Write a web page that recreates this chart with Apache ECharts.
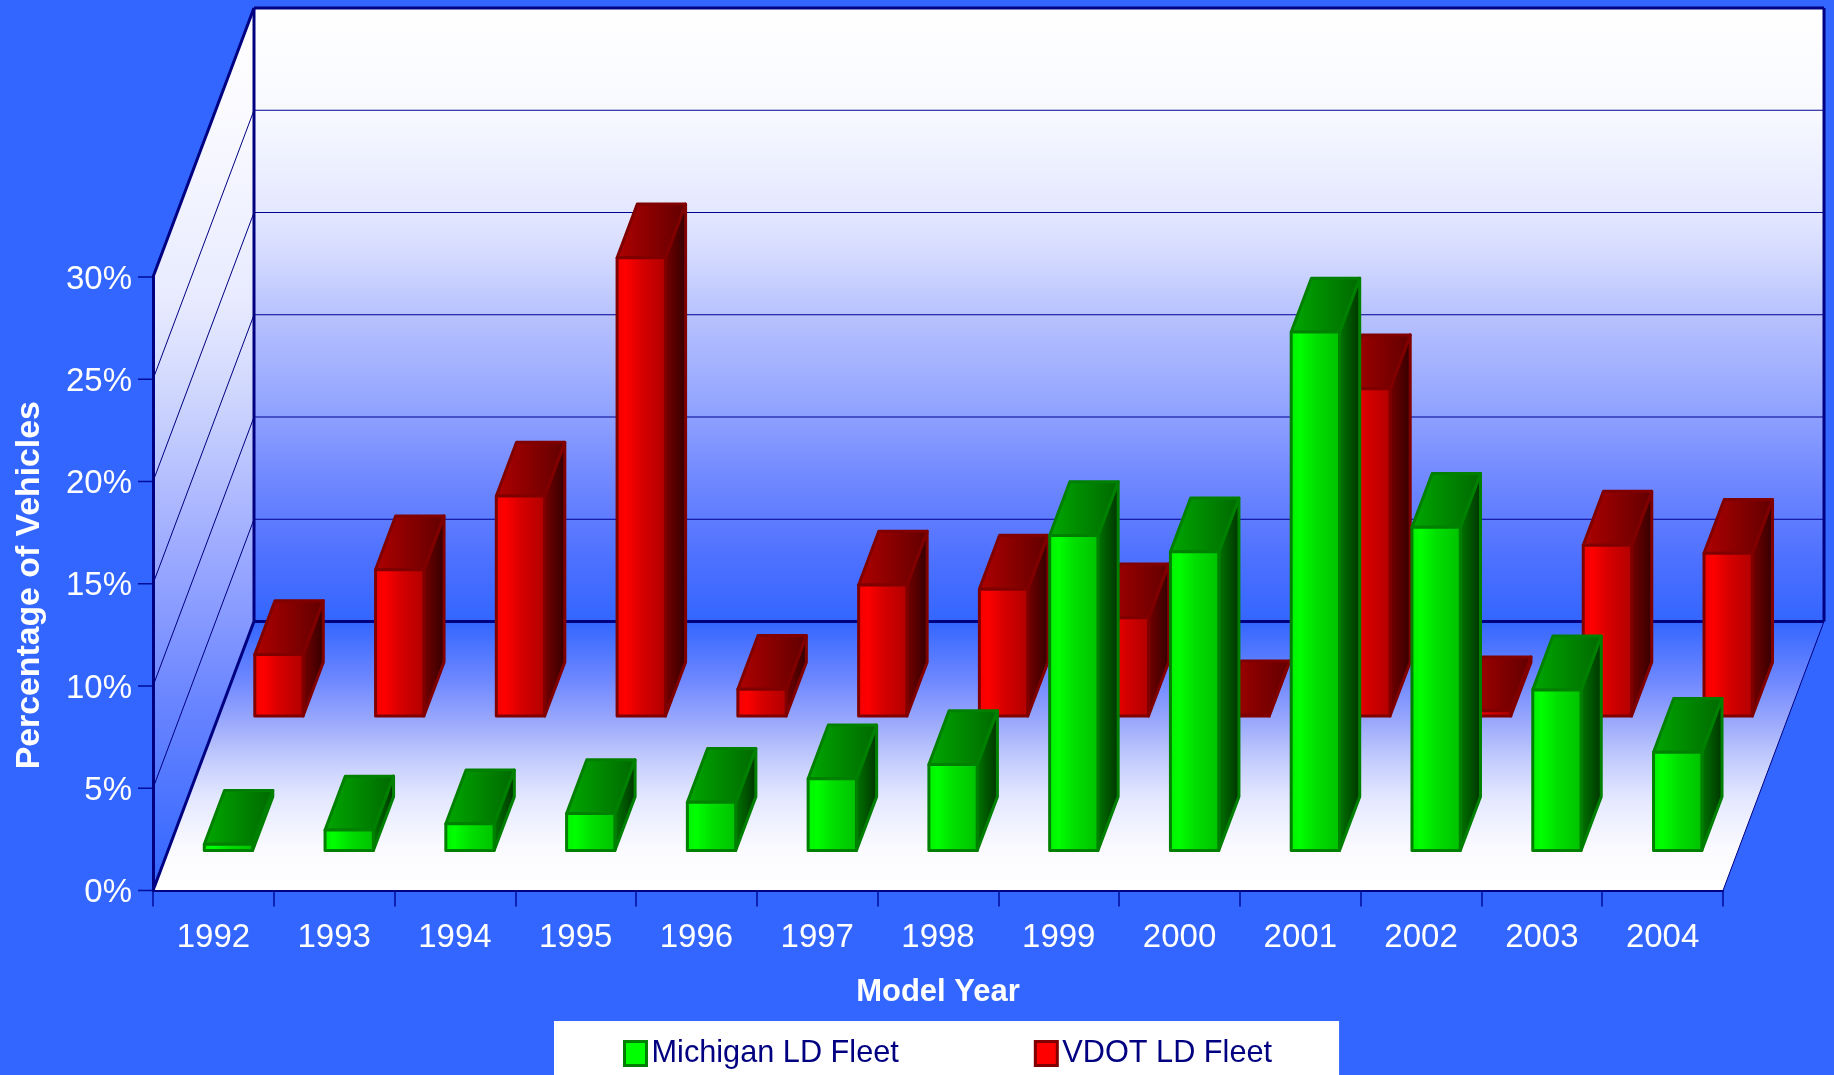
<!DOCTYPE html>
<html>
<head>
<meta charset="utf-8">
<title>Model Year</title>
<script src="https://cdn.jsdelivr.net/npm/echarts@6/dist/echarts.min.js"></script>
<style>
  html, body { margin: 0; padding: 0; background: #3366ff; }
  #chart { width: 1834px; height: 1075px; }
</style>
</head>
<body>
<div id="chart"></div>
<script>
const modelYears = ["1992", "1993", "1994", "1995", "1996", "1997", "1998", "1999", "2000", "2001", "2002", "2003", "2004"];
const michiganShare = [0.3, 1.0, 1.3, 1.8, 2.35, 3.5, 4.2, 15.4, 14.6, 25.35, 15.8, 7.85, 4.8];
const vdotShare = [3.0, 7.15, 10.75, 22.4, 1.3, 6.4, 6.2, 4.8, 0.05, 16.0, 0.25, 8.35, 7.95];
const wallTicks = [0, 5, 10, 15, 20, 25, 30];

// how far the back wall sits behind the front plane, in pixels
const DEPTH_X = 101;
const DEPTH_Y = 269;
const BAR_WIDTH = 0.4;
const BAR_DEPTH = 0.2;
const MICHIGAN_ROW = 0.149;
const VDOT_ROW = 0.649;
const TICK_LENGTH = 15;

const NAVY = "#000080";
const BLUE = "#3366ff";
const TICK_COLOR = "#000c9a";

function vertical(stops) {
  return { type: "linear", x: 0, y: 0, x2: 0, y2: 1, colorStops: stops.map(s => ({ offset: s[0], color: s[1] })) };
}

function horizontal(stops) {
  return { type: "linear", x: 0, y: 0, x2: 1, y2: 0, colorStops: stops.map(s => ({ offset: s[0], color: s[1] })) };
}

const backFill = vertical([[0, "#ffffff"], [0.165, "#f8f9ff"], [0.33, "#e4e8ff"], [0.395, "#d6dcff"], [0.5, "#b8c2fe"], [0.64, "#95a6ff"], [0.77, "#7088ff"], [0.9, "#4d70ff"], [1, BLUE]]);
const leftFill = vertical([[0, "#ffffff"], [0.1, "#fbfbff"], [0.33, "#e8ebff"], [0.445, "#cdd5fd"], [0.625, "#9aa8ff"], [0.785, "#6a85ff"], [0.955, "#3c6cff"], [1, BLUE]]);
const floorFill = vertical([[0, BLUE], [0.22, "#6f88ff"], [0.37, "#9aa8fc"], [0.52, "#c5cdfd"], [0.665, "#e5e9ff"], [0.85, "#fbfbff"], [1, "#ffffff"]]);

const greenFaces = {
  line: "#008000",
  front: horizontal([[0, "#00f000"], [0.2, "#00ff00"], [0.5, "#00e000"], [1, "#00c000"]]),
  top: horizontal([[0, "#00a800"], [1, "#006800"]]),
  side: horizontal([[0, "#007800"], [1, "#003000"]])
};
const redFaces = {
  line: "#800000",
  front: horizontal([[0, "#f00000"], [0.2, "#ff0000"], [0.5, "#d80000"], [1, "#b00000"]]),
  top: horizontal([[0, "#b00000"], [1, "#600000"]]),
  side: horizontal([[0, "#780000"], [1, "#300000"]])
};

function polygon(points, style) {
  return { type: "polygon", shape: { points: points }, style: style };
}

function segment(a, b, stroke, lineWidth) {
  return { type: "line", shape: { x1: a[0], y1: a[1], x2: b[0], y2: b[1] }, style: { stroke: stroke, lineWidth: lineWidth } };
}

function renderWalls(params, api) {
  const box = params.coordSys;
  const left = box.x;
  const right = box.x + box.width;
  const bottom = box.y + box.height;
  const top = box.y;
  const children = [
    polygon([[left + DEPTH_X, top - DEPTH_Y], [right + DEPTH_X, top - DEPTH_Y], [right + DEPTH_X, bottom - DEPTH_Y], [left + DEPTH_X, bottom - DEPTH_Y]], { fill: backFill }),
    polygon([[left, top], [left + DEPTH_X, top - DEPTH_Y], [left + DEPTH_X, bottom - DEPTH_Y], [left, bottom]], { fill: leftFill }),
    polygon([[left, bottom], [right, bottom], [right + DEPTH_X, bottom - DEPTH_Y], [left + DEPTH_X, bottom - DEPTH_Y]], { fill: floorFill })
  ];
  wallTicks.forEach(tick => {
    const y = api.coord([0, tick])[1];
    children.push(segment([left - TICK_LENGTH, y], [left, y], TICK_COLOR, 1.5));
    if (tick > 0 && tick < 30) {
      children.push(segment([left, y], [left + DEPTH_X, y - DEPTH_Y], NAVY, 1));
      children.push(segment([left + DEPTH_X, y - DEPTH_Y], [right + DEPTH_X, y - DEPTH_Y], "#000090", 1.2));
    }
  });
  children.push(segment([left + DEPTH_X, top - DEPTH_Y], [right + DEPTH_X, top - DEPTH_Y], NAVY, 3));
  children.push(segment([left + DEPTH_X, top - DEPTH_Y], [left + DEPTH_X, bottom - DEPTH_Y], NAVY, 3));
  children.push(segment([right + DEPTH_X, top - DEPTH_Y], [right + DEPTH_X, bottom - DEPTH_Y], NAVY, 3));
  children.push(segment([left + DEPTH_X, bottom - DEPTH_Y], [right + DEPTH_X, bottom - DEPTH_Y], NAVY, 3));
  children.push(segment([left, top], [left + DEPTH_X, top - DEPTH_Y], NAVY, 3));
  children.push(segment([left, bottom], [left + DEPTH_X, bottom - DEPTH_Y], NAVY, 3));
  children.push(segment([right, bottom], [right + DEPTH_X, bottom - DEPTH_Y], NAVY, 1));
  return { type: "group", children: children };
}

function barRenderer(row, faces) {
  return function (params, api) {
    const band = api.size([1, 0])[0];
    const half = band * BAR_WIDTH / 2;
    const base = api.coord([api.value(0), 0]);
    const head = api.coord([api.value(0), api.value(1)]);
    const at = (point, side, depth) => [point[0] + side * half + depth * DEPTH_X, point[1] - depth * DEPTH_Y];
    const near = row;
    const far = row + BAR_DEPTH;
    const outline = { stroke: faces.line, lineWidth: 3, lineJoin: "round" };
    return {
      type: "group",
      children: [
        polygon([at(base, 1, near), at(head, 1, near), at(head, 1, far), at(base, 1, far)], Object.assign({ fill: faces.side }, outline)),
        polygon([at(head, -1, near), at(head, 1, near), at(head, 1, far), at(head, -1, far)], Object.assign({ fill: faces.top }, outline)),
        polygon([at(base, -1, near), at(base, 1, near), at(head, 1, near), at(head, -1, near)], Object.assign({ fill: faces.front }, outline))
      ]
    };
  };
}

const chart = echarts.init(document.getElementById("chart"));

chart.setOption({
  backgroundColor: BLUE,
  animation: false,
  textStyle: { fontFamily: "Liberation Sans" },
  grid: { left: 153, top: 277, width: 1570, height: 613.5 },
  legend: {
    left: 554,
    top: 1021,
    padding: [17, 67, 13, 69],
    backgroundColor: "#ffffff",
    itemWidth: 22,
    itemHeight: 24,
    itemGap: 135,
    selectedMode: false,
    textStyle: { color: NAVY, fontSize: 30.7 },
    data: [
      { name: "Michigan LD Fleet", icon: "rect", itemStyle: { color: "#00ff00", borderColor: "#008000", borderWidth: 3 } },
      { name: "VDOT LD Fleet", icon: "rect", itemStyle: { color: "#ff0000", borderColor: "#800000", borderWidth: 3 } }
    ]
  },
  xAxis: {
    type: "category",
    data: modelYears,
    z: 10,
    name: "Model Year",
    nameLocation: "middle",
    nameGap: 86,
    nameTextStyle: { color: "#ffffff", fontSize: 31, fontWeight: "bold" },
    axisLine: { lineStyle: { color: NAVY, width: 2 } },
    axisTick: { show: true, length: 16, lineStyle: { color: TICK_COLOR, width: 1.5 } },
    axisLabel: { color: "#ffffff", fontSize: 33, margin: 31 }
  },
  yAxis: {
    type: "value",
    min: 0,
    max: 30,
    interval: 5,
    z: 10,
    name: "Percentage of Vehicles",
    nameLocation: "middle",
    nameGap: 106,
    nameTextStyle: { color: "#ffffff", fontSize: 33.8, fontWeight: "bold", padding: [0, 3, 0, 0] },
    splitLine: { show: false },
    axisLine: { show: true, lineStyle: { color: NAVY, width: 3 } },
    axisTick: { show: false },
    axisLabel: { color: "#ffffff", fontSize: 33, margin: 21, formatter: "{value}%", verticalAlign: "top", lineHeight: 5 }
  },
  series: [
    { name: "walls", type: "custom", renderItem: renderWalls, data: [[0, 0]], encode: { x: 0, y: 1 }, silent: true, z: 1 },
    {
      name: "VDOT LD Fleet",
      type: "custom",
      renderItem: barRenderer(VDOT_ROW, redFaces),
      data: vdotShare.map((value, i) => [i, value]),
      encode: { x: 0, y: 1 },
      itemStyle: { color: "#ff0000" },
      z: 2
    },
    {
      name: "Michigan LD Fleet",
      type: "custom",
      renderItem: barRenderer(MICHIGAN_ROW, greenFaces),
      data: michiganShare.map((value, i) => [i, value]),
      encode: { x: 0, y: 1 },
      itemStyle: { color: "#00ff00" },
      z: 3
    }
  ]
});
</script>
</body>
</html>
